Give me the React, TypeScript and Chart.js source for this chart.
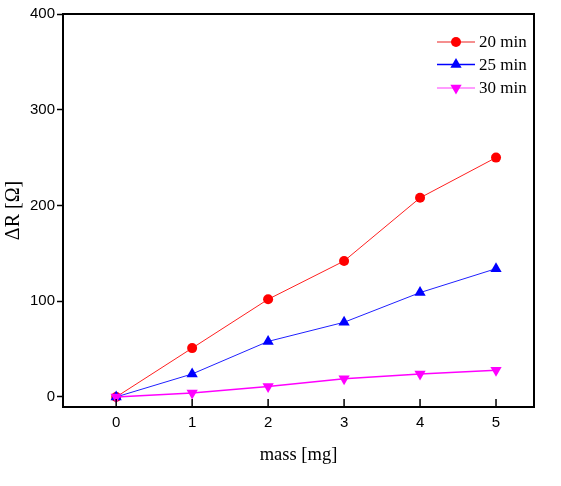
import React, { useEffect, useRef } from "react";
import { Chart, registerables } from "chart.js";

Chart.register(...registerables);

const massValues = [0, 1, 2, 3, 4, 5];
const series20 = [0, 51, 102, 142, 208, 250];
const series25 = [0, 24, 58, 78, 109, 134];
const series30 = [0, 4, 11, 19, 24, 28];
const seriesLabels = ["20 min", "25 min", "30 min"];
const xTickValues = [0, 1, 2, 3, 4, 5];
const yTickValues = [0, 100, 200, 300, 400];

const SERIF = "'Liberation Serif', 'Times New Roman', serif";
const SANS = "'Liberation Sans', Arial, sans-serif";

const toPoints = (ys: number[]) => massValues.map((x, i) => ({ x, y: ys[i] }));

const boxPlugin = {
  id: "boxPlugin",
  afterDraw(chart: any) {
    const { ctx, chartArea } = chart;
    const { left, top, right, bottom } = chartArea;
    ctx.save();
    const xs = chart.scales.x;
    ctx.strokeStyle = "#000";
    ctx.lineWidth = 1.5;
    ctx.beginPath();
    xTickValues.forEach((v) => {
      const px = xs.getPixelForValue(v);
      ctx.moveTo(px, bottom);
      ctx.lineTo(px, bottom - 8);
    });
    ctx.stroke();
    ctx.lineWidth = 2;
    ctx.strokeRect(left, top, right - left, bottom - top);
    ctx.restore();
  },
};

const legendPlugin = {
  id: "customLegend",
  afterDraw(chart: any) {
    const { ctx } = chart;
    const x0 = 437;
    const x1 = 475;
    const rows = [42, 64.5, 88];
    const legendLineColors = ["#f26a6a", "#0000ff", "#ff7bff"];
    ctx.save();
    chart.data.datasets.forEach((ds: any, i: number) => {
      const y = rows[i];
      ctx.strokeStyle = legendLineColors[i];
      ctx.lineWidth = 1.3;
      ctx.beginPath();
      ctx.moveTo(x0, y);
      ctx.lineTo(x1, y);
      ctx.stroke();
      ctx.fillStyle = ds.pointBackgroundColor;
      const cx = (x0 + x1) / 2;
      const r = ds.pointRadius;
      const rot = ((ds.pointRotation || 0) * Math.PI) / 180;
      ctx.beginPath();
      if (ds.pointStyle === "circle") {
        ctx.arc(cx, y, r, 0, Math.PI * 2);
      } else {
        let a = rot;
        ctx.moveTo(cx + Math.sin(a) * r, y - Math.cos(a) * r);
        a += (2 * Math.PI) / 3;
        ctx.lineTo(cx + Math.sin(a) * r, y - Math.cos(a) * r);
        a += (2 * Math.PI) / 3;
        ctx.lineTo(cx + Math.sin(a) * r, y - Math.cos(a) * r);
        ctx.closePath();
      }
      ctx.fill();
      ctx.fillStyle = "#000";
      ctx.font = `17px ${SERIF}`;
      ctx.textBaseline = "middle";
      ctx.textAlign = "left";
      ctx.fillText(ds.label, 479, y + 1);
    });
    ctx.restore();
  },
};

export default function App() {
  const canvasRef = useRef<HTMLCanvasElement | null>(null);

  useEffect(() => {
    document.body.style.margin = "0";
    const canvas = canvasRef.current;
    if (!canvas) return;
    const chart = new Chart(canvas, {
      type: "line",
      data: {
        datasets: [
          {
            label: seriesLabels[0],
            data: toPoints(series20),
            borderColor: "#ff2020",
            borderWidth: 1,
            pointStyle: "circle",
            pointRadius: 5,
            pointBackgroundColor: "#ff0000",
            pointBorderColor: "#ff0000",
            pointBorderWidth: 0,
            order: 2,
          } as any,
          {
            label: seriesLabels[1],
            data: toPoints(series25),
            borderColor: "#2020ff",
            borderWidth: 1,
            pointStyle: "triangle",
            pointRadius: 6.5,
            pointBackgroundColor: "#0000ff",
            pointBorderColor: "#0000ff",
            pointBorderWidth: 0,
            order: 1,
          } as any,
          {
            label: seriesLabels[2],
            data: toPoints(series30),
            borderColor: "#ff00ff",
            borderWidth: 1.5,
            pointStyle: "triangle",
            pointRotation: 180,
            pointRadius: 6.5,
            pointBackgroundColor: "#ff00ff",
            pointBorderColor: "#ff00ff",
            pointBorderWidth: 0,
            order: 0,
          } as any,
        ],
      },
      options: {
        animation: false,
        responsive: false,
        maintainAspectRatio: false,
        layout: { padding: { top: 14, right: 27, left: 0, bottom: 0 } },
        plugins: {
          legend: { display: false },
          tooltip: { enabled: false },
        },
        scales: {
          x: {
            type: "linear",
            min: -0.7,
            max: 5.5,
            afterBuildTicks: (scale: any) => {
              scale.ticks = xTickValues.map((v) => ({ value: v }));
            },
            afterFit: (scale: any) => {
              scale.height = 79;
            },
            grid: { display: false, drawTicks: false },
            border: { display: false },
            ticks: {
              color: "#000",
              font: { family: SANS, size: 15 },
              padding: 7,
              maxRotation: 0,
              callback: (v: any) => String(v),
            },
            title: {
              display: true,
              text: "mass [mg]",
              color: "#000",
              font: { family: SERIF, size: 18.5 },
              padding: { top: 0, bottom: 20 },
            },
          },
          y: {
            type: "linear",
            min: -10.5,
            max: 400,
            afterBuildTicks: (scale: any) => {
              scale.ticks = yTickValues.map((v) => ({ value: v }));
            },
            afterFit: (scale: any) => {
              scale.width = 63;
            },
            grid: {
              display: true,
              drawOnChartArea: false,
              drawTicks: true,
              tickLength: 6,
              tickWidth: 1.5,
              tickColor: "#000",
            },
            border: { display: false },
            ticks: {
              color: "#000",
              font: { family: SANS, size: 15 },
              padding: 2,
              callback: (v: any) => String(v),
            },
            title: {
              display: true,
              text: "ΔR [Ω]",
              color: "#000",
              font: { family: SERIF, size: 20 },
              padding: { top: 2, bottom: 0 },
            },
          },
        },
      },
      plugins: [boxPlugin, legendPlugin],
    });
    return () => chart.destroy();
  }, []);

  return (
    <div style={{ width: 561, height: 486, background: "#fff" }}>
      <canvas ref={canvasRef} width={561} height={486} style={{ display: "block" }} />
    </div>
  );
}
